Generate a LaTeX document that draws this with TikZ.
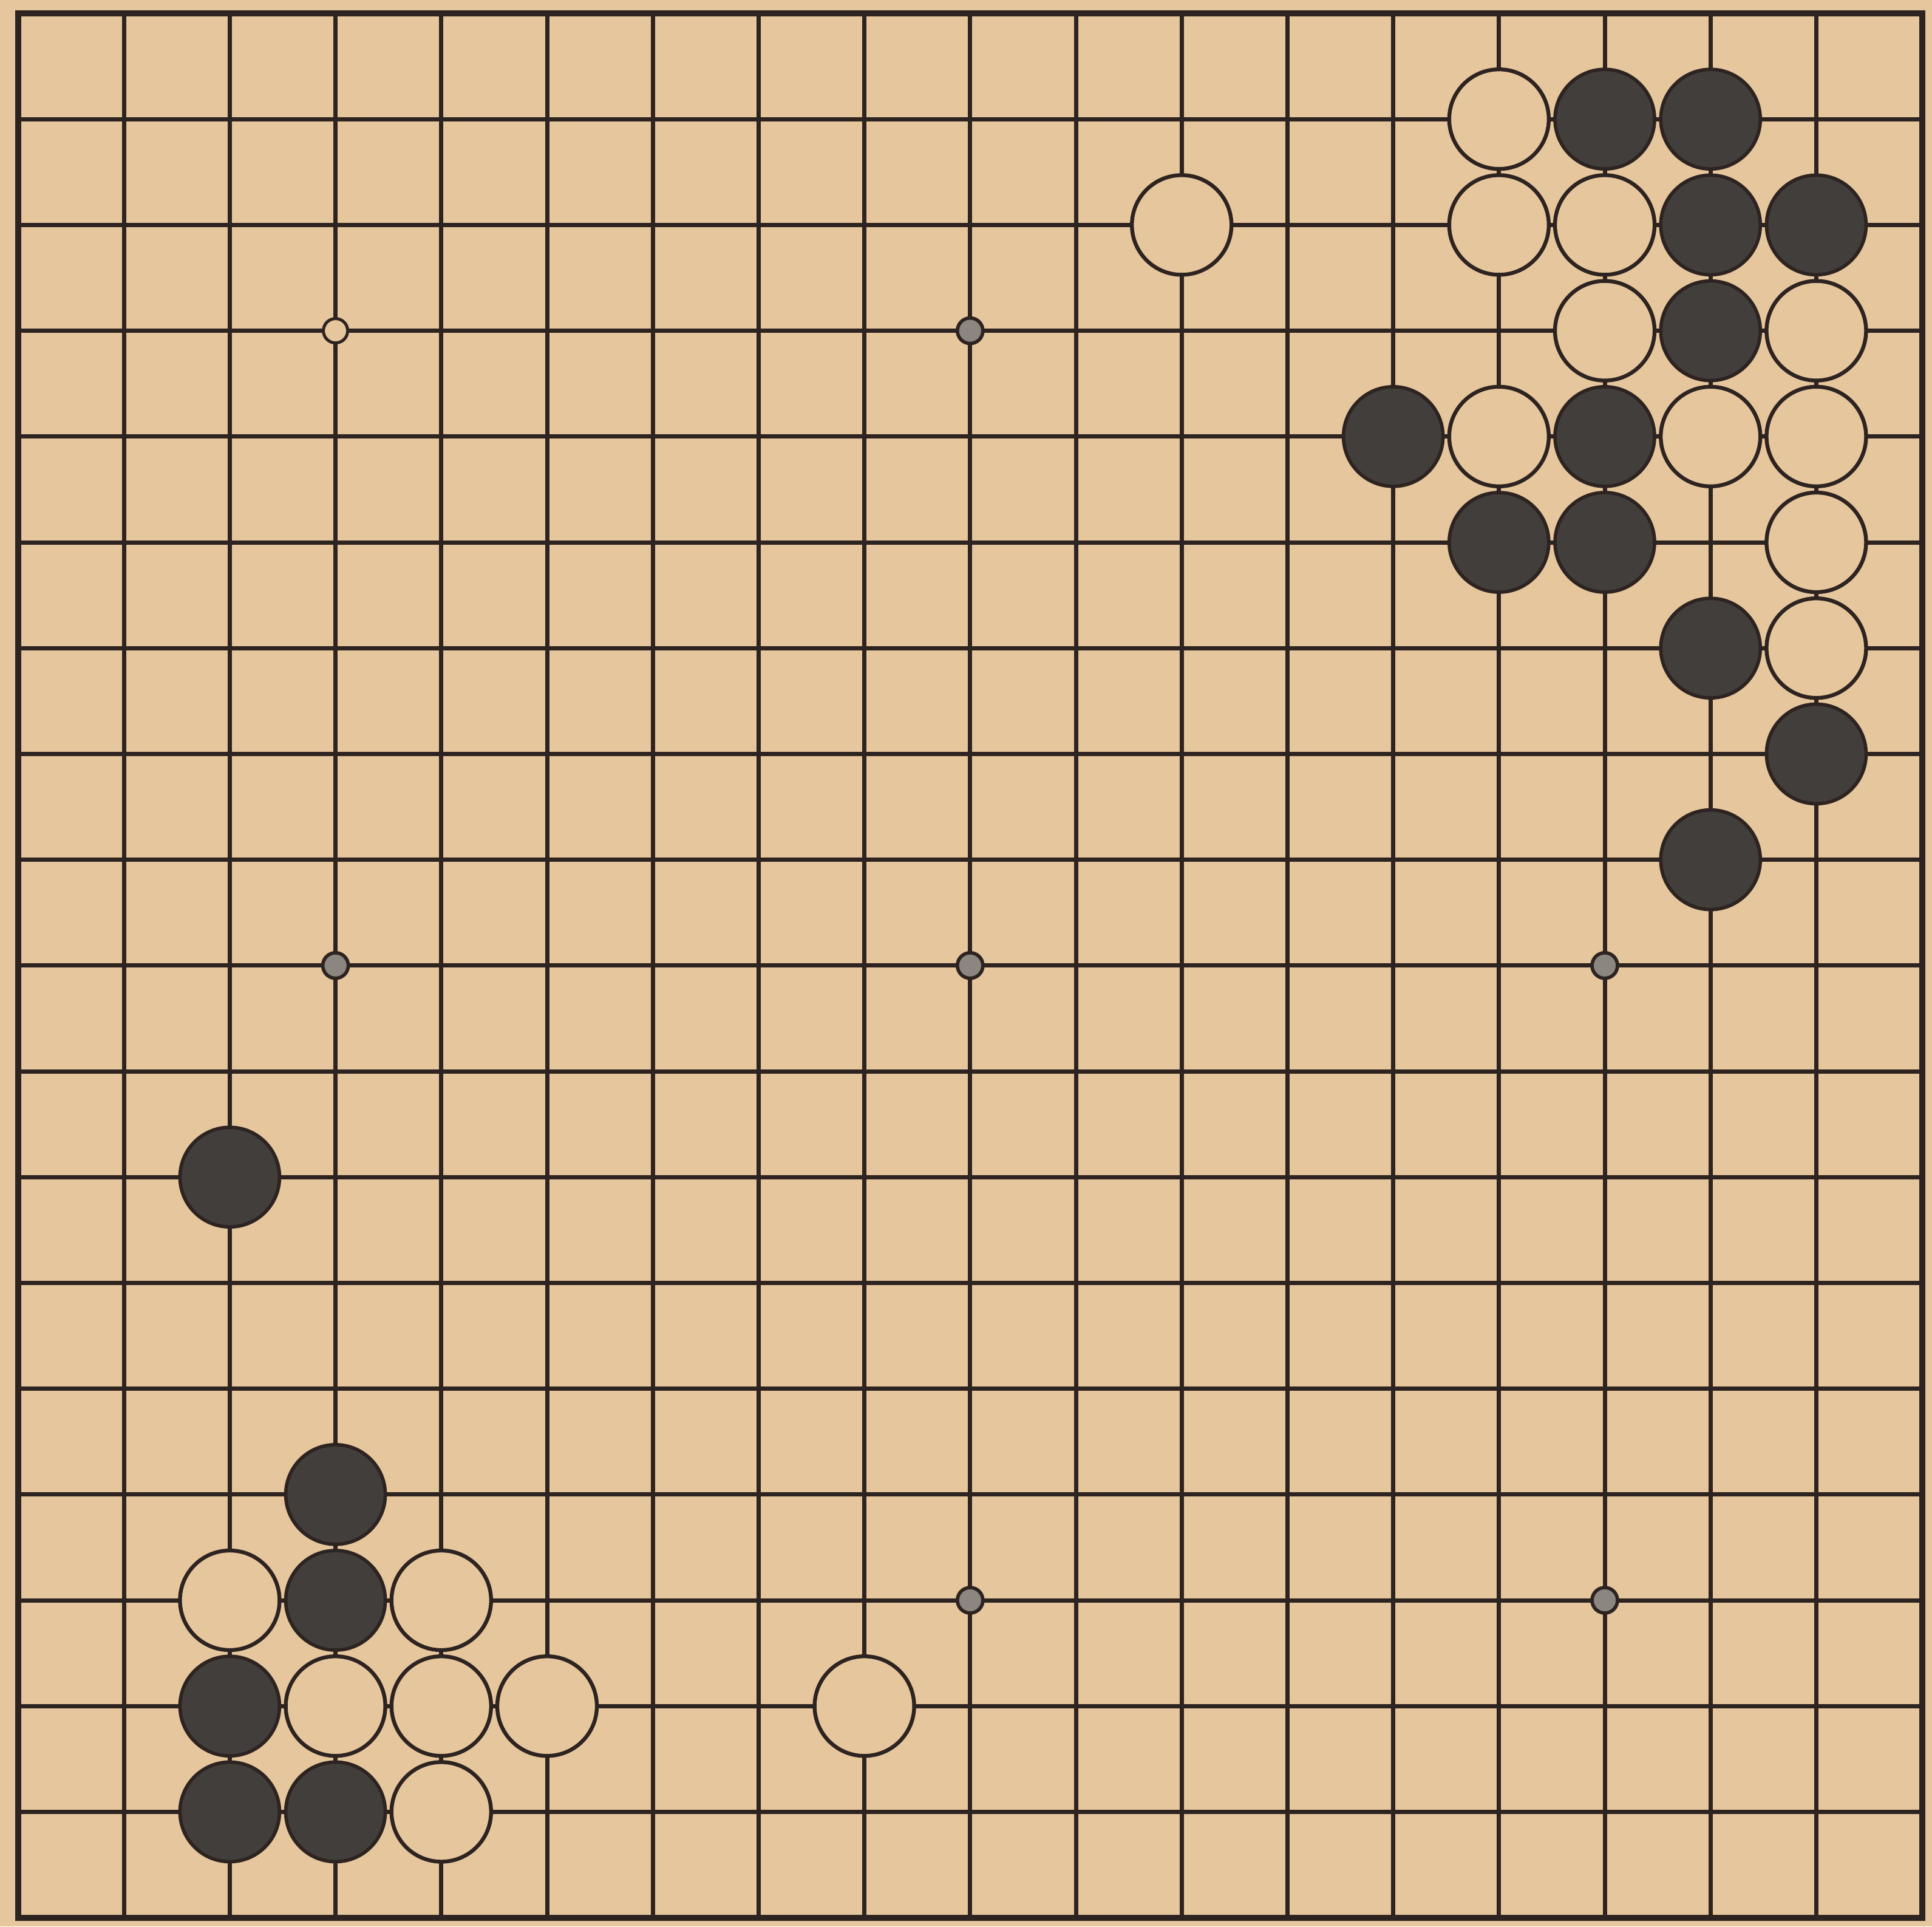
\documentclass[tikz,border=0pt]{standalone}
\definecolor{paper}{HTML}{E6C69D}
\definecolor{ink}{HTML}{2D2320}
\definecolor{stoneblack}{HTML}{423E3B}
\definecolor{stargrey}{HTML}{8C8680}
\tikzset{
  gridline/.style={ink, line width=2pt},
  borderline/.style={ink, line width=2.8pt},
  bstone/.style={circle, draw=ink, fill=stoneblack, line width=1.6pt, minimum size=1.64cm, inner sep=0pt},
  wstone/.style={circle, draw=ink, fill=paper, line width=1.8pt, minimum size=1.64cm, inner sep=0pt},
  starpt/.style={circle, draw=ink, fill=stargrey, line width=1.6pt, minimum size=0.42cm, inner sep=0pt},
  hollowstar/.style={circle, draw=ink, fill=paper, line width=1.4pt, minimum size=0.40cm, inner sep=0pt}
}
\begin{document}
\begin{tikzpicture}
\fill[paper] (0,0) rectangle (31.82,-31.72);
\useasboundingbox (0,0) rectangle (31.82,-31.72);
\begin{scope}[shift={(0.30cm,-0.22cm)}, x=1.742cm, y=-1.742cm]
  % grid
  \foreach \i in {1,...,17} {
    \draw[gridline] (\i,0) -- (\i,18);
    \draw[gridline] (0,\i) -- (18,\i);
  }
  \draw[borderline] (0,0) rectangle (18,18);
  % star points
  \node[hollowstar] (s-4-4) at (3,3) {};
  \foreach \c/\r in {10/4, 4/10, 10/10, 16/10, 10/16, 16/16}
    \node[starpt] (s-\c-\r) at (\c-1,\r-1) {};
  % black stones
  \foreach \c/\r in {16/2, 17/2, 17/3, 18/3, 17/4, 14/5, 16/5, 15/6, 16/6, 17/7, 18/8, 17/9,
                     3/12, 4/15, 4/16, 3/17, 3/18, 4/18}
    \node[bstone] (b-\c-\r) at (\c-1,\r-1) {};
  % white stones
  \foreach \c/\r in {15/2, 12/3, 15/3, 16/3, 16/4, 18/4, 15/5, 17/5, 18/5, 18/6, 18/7,
                     3/16, 5/16, 4/17, 5/17, 6/17, 9/17, 5/18}
    \node[wstone] (w-\c-\r) at (\c-1,\r-1) {};
\end{scope}
\end{tikzpicture}
\end{document}
